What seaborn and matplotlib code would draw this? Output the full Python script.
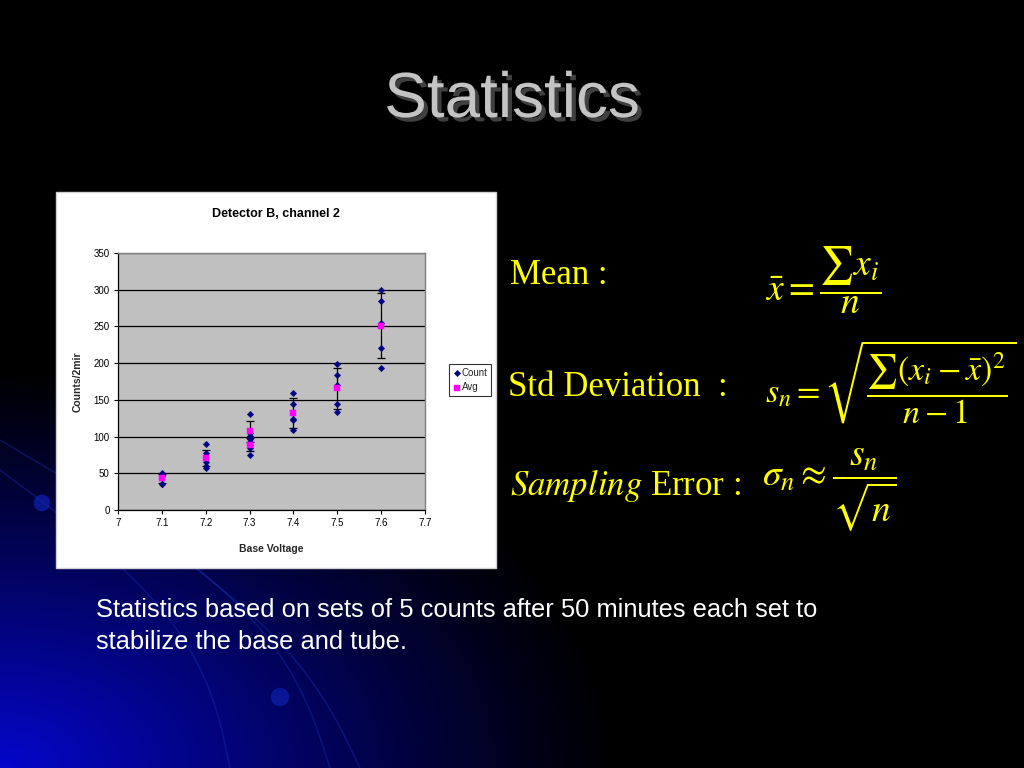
import numpy as np
import pandas as pd
import matplotlib
matplotlib.use("Agg")
import matplotlib.pyplot as plt
import seaborn as sns
from matplotlib.patches import Rectangle
import matplotlib.patheffects as pe

# ---------------- data ----------------
count_voltage = [7.1] * 5 + [7.2] * 5 + [7.3] * 10 + [7.4] * 5 + [7.5] * 5 + [7.6] * 5
count_values = [50, 48, 46, 36, 35,
                90, 77, 65, 60, 57,
                131, 105, 101, 97, 100, 98, 93, 88, 84, 75,
                160, 144, 124, 122, 109,
                199, 184, 170, 144, 133,
                299, 285, 254, 221, 193]
avg_voltage = [7.1, 7.2, 7.3, 7.3, 7.4, 7.5, 7.6]
avg_values = [43, 71, 107, 89, 132, 166, 251]
avg_error = [6, 11, 14, 9, 20, 28, 44]
x_ticks = [7.0, 7.1, 7.2, 7.3, 7.4, 7.5, 7.6, 7.7]
x_tick_labels = ["7", "7.1", "7.2", "7.3", "7.4", "7.5", "7.6", "7.7"]
y_ticks = [0, 50, 100, 150, 200, 250, 300, 350]

chart_title = "Detector B, channel 2"
x_label = "Base Voltage"
y_label = "Counts/2mir"
slide_title = "Statistics"
footer = ("Statistics based on sets of 5 counts after 50 minutes each set to\n"
          "stabilize the base and tube.")

df_counts = pd.DataFrame({"voltage": count_voltage, "count": count_values})
df_avg = pd.DataFrame({"voltage": avg_voltage, "avg": avg_values, "err": avg_error})

# ---------------- style ----------------
sns.set_style("white")
plt.rcParams["font.family"] = ["Liberation Sans", "DejaVu Sans"]
plt.rcParams["mathtext.fontset"] = "stix"

W, H = 1024, 768
fig = plt.figure(figsize=(W / 100, H / 100), dpi=100, facecolor="black")


def fx(px):
    return px / W


def fy(py):
    return 1 - py / H


# ---------------- background ----------------
bg = fig.add_axes([0, 0, 1, 1], zorder=-10)
yy, xx = np.mgrid[0:H, 0:W]
r = np.sqrt((xx / 620.0) ** 2 + ((H - yy) / 400.0) ** 2)
blue = np.clip(1 - r, 0, 1) ** 1.1 * 0.80
img = np.zeros((H, W, 3))
img[..., 2] = blue
img[..., 0] = blue * 0.02
img[..., 1] = blue * 0.03
bg.imshow(img, extent=[0, W, H, 0], aspect="auto")
# decorative arcs
t = np.linspace(0, 1, 200)
for (x0, y0, x1, y1, bend) in [(0, 440, 330, 768, 120), (130, 520, 360, 768, 60),
                               (0, 470, 230, 768, 90)]:
    xs = x0 + (x1 - x0) * t + bend * np.sin(np.pi * t) * 0.6
    ys = y0 + (y1 - y0) * t
    bg.plot(xs, ys, color="#1a2fb0", lw=1.1, alpha=0.4)
bg.scatter([42, 280], [503, 697], s=[120, 150], color="#0a1a9a", alpha=0.9)
bg.set_xlim(0, W)
bg.set_ylim(H, 0)
bg.axis("off")

# ---------------- slide title ----------------
fig.text(fx(512), fy(100), slide_title, ha="center", va="center",
         fontsize=46, color="#c4c4c4", family="Liberation Sans",
         path_effects=[pe.SimplePatchShadow(offset=(3, -3), shadow_rgbFace="#404040",
                                            alpha=1.0), pe.Normal()])

# ---------------- chart panel ----------------
fig.patches.append(Rectangle((fx(56), fy(568)), fx(496) - fx(56), fy(192) - fy(568),
                             transform=fig.transFigure, facecolor="white",
                             edgecolor="#d0d0d0", lw=1, zorder=0))

ax = fig.add_axes([fx(118), fy(510), fx(425) - fx(118), fy(253) - fy(510)], zorder=1)
ax.set_facecolor("#c0c0c0")

ax.errorbar(df_avg["voltage"], df_avg["avg"], yerr=df_avg["err"], fmt="none",
            ecolor="black", elinewidth=0.9, capsize=3, capthick=0.9, zorder=3)
sns.scatterplot(data=df_counts, x="voltage", y="count", marker="D", color="#000080",
                edgecolor="#000080", s=11, label="Count", ax=ax, zorder=4)
sns.scatterplot(data=df_avg, x="voltage", y="avg", marker="s", color="#ff00ff",
                edgecolor="#ff00ff", s=18, label="Avg", ax=ax, zorder=5)

ax.set_xlim(7.0, 7.7)
ax.set_ylim(0, 350)
ax.set_xticks(x_ticks)
ax.set_xticklabels(x_tick_labels)
ax.set_yticks(y_ticks)
ax.yaxis.grid(True, color="black", lw=0.9)
ax.xaxis.grid(False)
ax.set_axisbelow(True)
for s in ["top", "right"]:
    ax.spines[s].set_color("#808080")
    ax.spines[s].set_linewidth(1.0)
for s in ["left", "bottom"]:
    ax.spines[s].set_color("black")
    ax.spines[s].set_linewidth(0.9)
ax.tick_params(axis="both", direction="out", length=3, width=0.8, colors="black",
               labelsize=7, pad=3, bottom=True, left=True)
ax.set_xlabel(x_label, fontsize=7.5, fontweight="bold", labelpad=11)
ax.set_ylabel(y_label, fontsize=7.5, fontweight="bold", labelpad=8)
fig.text(fx(276), fy(214), chart_title, ha="center", va="center", fontsize=9,
         fontweight="bold", color="black")

leg = ax.legend(loc="center", bbox_to_anchor=(fx(470), fy(380)),
                bbox_transform=fig.transFigure, frameon=True, fancybox=False,
                edgecolor="black", fontsize=7, handletextpad=0.0, handlelength=1.0,
                borderpad=0.35, labelspacing=0.5, borderaxespad=0)
leg.get_frame().set_linewidth(0.8)
leg.get_frame().set_facecolor("white")

# ---------------- formulas ----------------
yellow = "#ffff00"
serif = ["Liberation Serif", "DejaVu Serif"]
fig.text(fx(510), fy(275), "Mean :", ha="left", va="center", fontsize=25,
         color=yellow, family=serif)
fig.text(fx(508), fy(387), "Std Deviation  :", ha="left", va="center", fontsize=25,
         color=yellow, family=serif)
fig.text(fx(510), fy(485), r"$\mathit{Sampling}$ Error :", ha="left", va="center",
         fontsize=25, color=yellow, family=serif)

fig.text(fx(765), fy(280), r"$\bar{x} = \dfrac{\sum x_i}{n}$", ha="left",
         va="center", fontsize=27, color=yellow)
fig.text(fx(765), fy(382), r"$s_n = \sqrt{\dfrac{\sum(x_i - \bar{x})^2}{n-1}}$",
         ha="left", va="center", fontsize=24.5, color=yellow)
fig.text(fx(762), fy(490), r"$\sigma_n \approx \dfrac{s_n}{\sqrt{n}}$", ha="left",
         va="center", fontsize=27, color=yellow)

# ---------------- footer ----------------
fig.text(fx(96), fy(626), footer, ha="left", va="center", fontsize=18.4,
         color="white", linespacing=1.45, family="Liberation Sans")

fig.savefig("out.png", dpi=100, facecolor="black")
